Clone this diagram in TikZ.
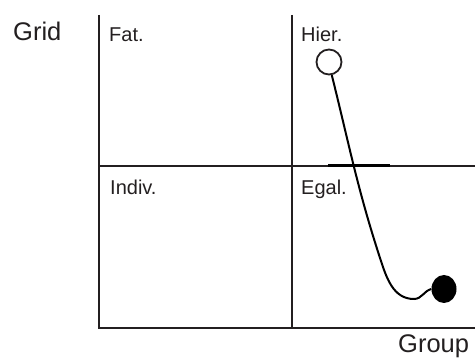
\documentclass[tikz,border=0pt]{standalone}
\usepackage{fontspec}
\setmainfont{Liberation Sans}
\usetikzlibrary{shapes.geometric}
\definecolor{ink}{HTML}{231F20}
\begin{document}
\begin{tikzpicture}[x=1pt,y=-1pt,
  axis/.style={draw=ink,line width=2pt},
  biglabel/.style={anchor=base west,inner sep=0pt,font=\fontsize{25.5}{28}\selectfont,text=ink},
  quadlabel/.style={anchor=base west,inner sep=0pt,font=\fontsize{20}{22}\selectfont,text=ink},
  hollow/.style={circle,draw=ink,line width=1.8pt,minimum size=25pt,inner sep=0pt,fill=white},
  solid/.style={ellipse,fill=black,minimum width=25pt,minimum height=28pt,inner sep=0pt},
  trail/.style={draw=black,line width=2pt}]
\useasboundingbox (0,0) rectangle (475,358);
% axes
\coordinate (tl) at (99,15);
\coordinate (bl) at (99,328);
\coordinate (br) at (475,328);
\coordinate (tm) at (292,15);
\coordinate (bm) at (292,328);
\coordinate (ml) at (99,166);
\coordinate (mr) at (475,166);
\coordinate (ta) at (328,166);
\coordinate (tb) at (390,166);
\draw[axis] (tl) -- (bl) -- (br);
\draw[axis] (tm) -- (bm);
\draw[axis] (ml) -- (mr);
\draw[draw=black,line width=3pt] (ta) -- (tb);
% labels
\node[biglabel] (grid) at (13,40.5) {Grid};
\node[biglabel] (group) at (398,353) {Group};
\node[quadlabel] (fat) at (109,42) {Fat.};
\node[quadlabel] (hierl) at (301,42) {Hier.};
\node[quadlabel] (indiv) at (110,195) {Indiv.};
\node[quadlabel] (egall) at (301,195) {Egal.};
% markers
\node[hollow] (hier) at (329,62) {};
\node[solid] (egal) at (444,289) {};
\draw[trail] (hier.-78) to[out=-76,in=108] (380,258) to[out=-72,in=180] (414,299) to[out=0,in=195] (egal.west);
\end{tikzpicture}
\end{document}
